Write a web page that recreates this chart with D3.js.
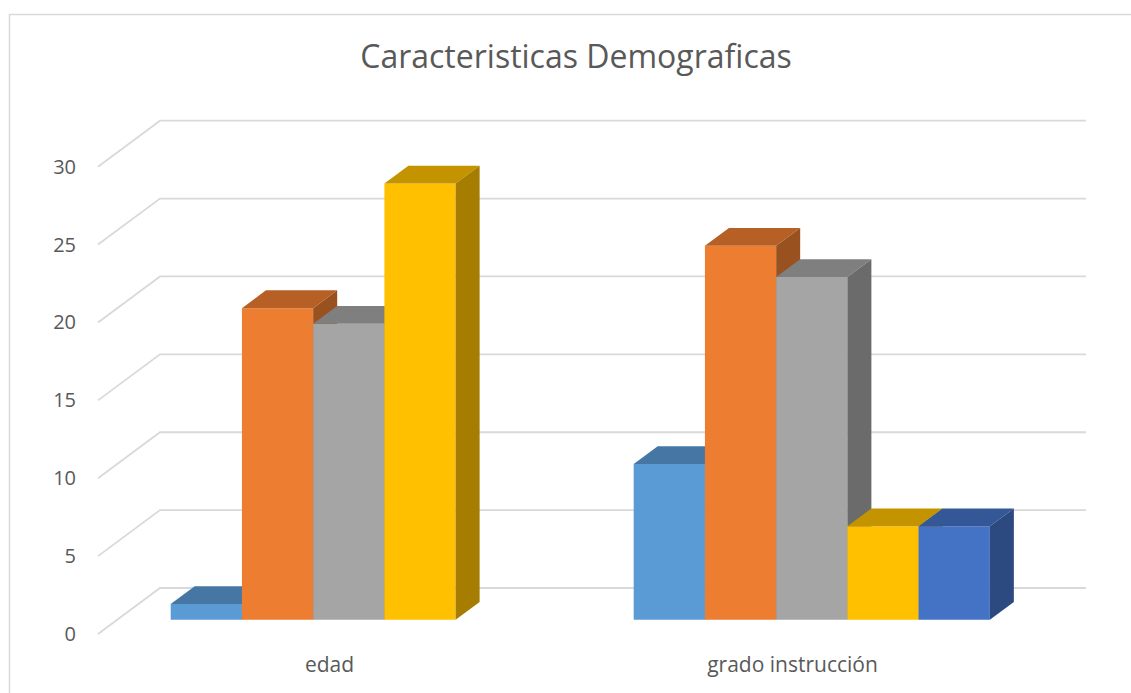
<!DOCTYPE html>
<html>
<head>
<meta charset="utf-8">
<script src="https://cdn.jsdelivr.net/npm/d3@7"></script>
<style>
  html, body { margin: 0; padding: 0; background: #ffffff; }
  svg { display: block; }
  text { font-family: "Open Sans", "Noto Sans", sans-serif; fill: #595959; }
</style>
</head>
<body>
<svg id="chart" width="1131" height="693"></svg>
<script>
// ---- data ----
const title = "Caracteristicas Demograficas";
const categories = ["edad", "grado instrucción"];
const seriesNames = ["Serie 1", "Serie 2", "Serie 3", "Serie 4", "Serie 5"];
const serie1 = [1, 10];
const serie2 = [20, 24];
const serie3 = [19, 22];
const serie4 = [28, 6];
const serie5 = [null, 6];
const seriesValues = [serie1, serie2, serie3, serie4, serie5];
const seriesColors = ["#5B9BD5", "#ED7D31", "#A5A5A5", "#FFC000", "#4472C4"];
const yTicks = [0, 5, 10, 15, 20, 25, 30];

// ---- layout ----
const svg = d3.select("#chart");
const W = 1131, H = 693;

// back wall
const wallLeft = 160, wallRight = 1086;
const y = d3.scaleLinear().domain([0, 30]).range([588, 120.7]);
const x = d3.scaleBand().domain(categories).range([wallLeft, wallRight]).padding(0);
const xs = d3.scaleBand().domain(seriesNames).range([0, x.bandwidth()])
  .paddingInner(0).paddingOuter(0.75);

// depth vector (back -> front of floor)
const depthDX = -62, depthDY = 46;
const fBack = 0.302, fFront = 0.689;

// chart border
svg.append("rect")
  .attr("x", 9.5).attr("y", 14.5)
  .attr("width", W + 20).attr("height", H + 20)
  .attr("fill", "none").attr("stroke", "#D9D9D9").attr("stroke-width", 1.5);

// title
svg.append("text")
  .attr("x", 576).attr("y", 68)
  .attr("text-anchor", "middle")
  .style("font-size", "32px")
  .text(title);

// gridlines: back wall + left wall diagonal
const grid = svg.append("g").attr("stroke", "#D9D9D9").attr("stroke-width", 1.8).attr("fill", "none");
yTicks.forEach(t => {
  const yy = y(t);
  grid.append("path")
    .attr("d", `M${wallLeft + depthDX},${yy + depthDY}L${wallLeft},${yy}L${wallRight},${yy}`);
});

// y tick labels
svg.append("g").selectAll("text").data(yTicks).join("text")
  .attr("x", 76)
  .attr("y", d => y(d) + depthDY)
  .attr("dy", "0.35em")
  .attr("text-anchor", "end")
  .style("font-size", "20px")
  .text(d => d);

// category labels (at front of floor)
svg.append("g").selectAll("text").data(categories).join("text")
  .attr("x", d => x(d) + x.bandwidth() / 2 + depthDX)
  .attr("y", 672)
  .attr("text-anchor", "middle")
  .style("font-size", "21px")
  .text(d => d);

// bars
function shade(hex, k) {
  const c = d3.rgb(hex);
  return d3.rgb(c.r * k, c.g * k, c.b * k).formatHex();
}
const bars = svg.append("g");
const fdx = depthDX * fFront, fdy = depthDY * fFront;
const bdx = depthDX * fBack, bdy = depthDY * fBack;
const ddx = fdx - bdx, ddy = fdy - bdy; // front minus back offset

categories.forEach((cat, ci) => {
  seriesNames.forEach((sn, si) => {
    const v = seriesValues[si][ci];
    if (v == null) return;
    const col = seriesColors[si];
    const x0 = x(cat) + xs(sn) + fdx;
    const x1 = x0 + xs.bandwidth();
    const yb = y(0) + fdy;
    const yt = y(v) + fdy;
    const g = bars.append("g");
    // front face
    g.append("path")
      .attr("d", `M${x0},${yb}L${x0},${yt}L${x1},${yt}L${x1},${yb}Z`)
      .attr("fill", col);
    // top face
    g.append("path")
      .attr("d", `M${x0},${yt}L${x0 - ddx},${yt - ddy}L${x1 - ddx},${yt - ddy}L${x1},${yt}Z`)
      .attr("fill", shade(col, 0.77));
    // side face
    g.append("path")
      .attr("d", `M${x1},${yb}L${x1},${yt}L${x1 - ddx},${yt - ddy}L${x1 - ddx},${yb - ddy}Z`)
      .attr("fill", shade(col, 0.65));
  });
});
</script>
</body>
</html>
